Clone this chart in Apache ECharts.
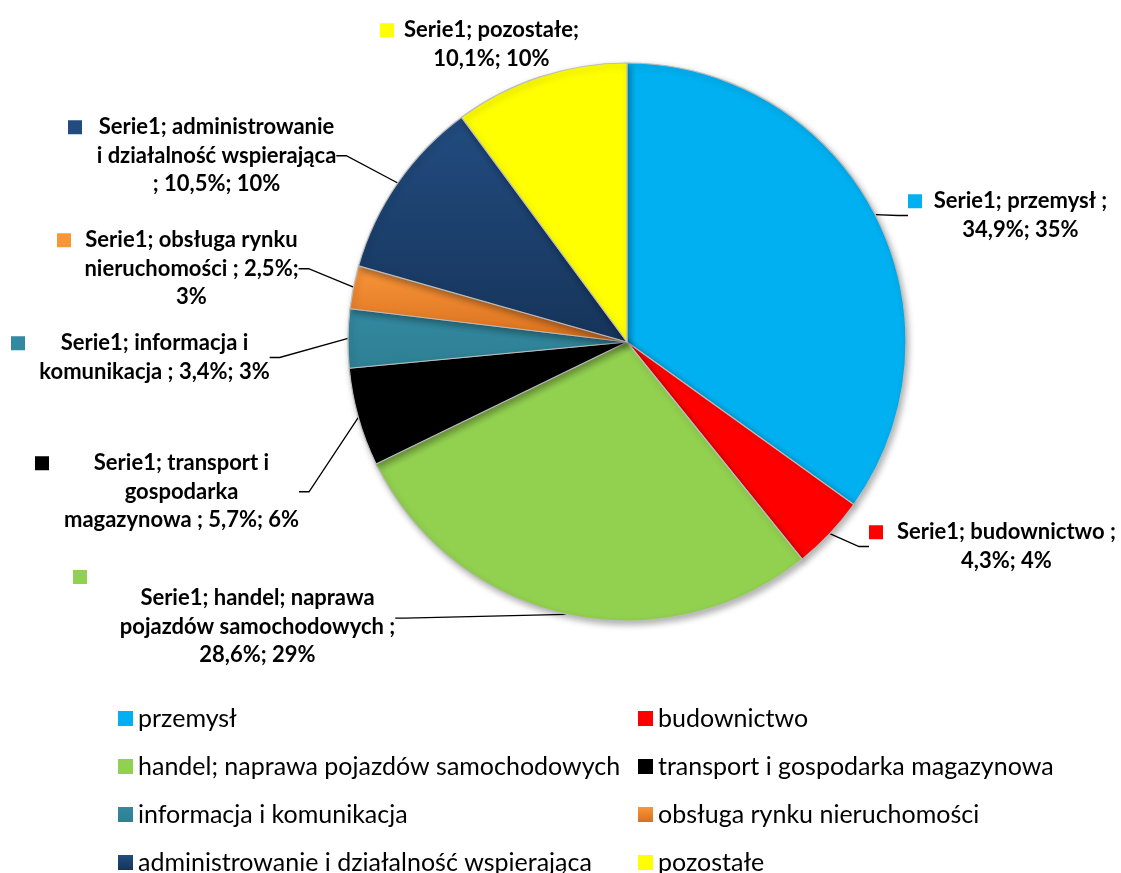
<!DOCTYPE html>
<html>
<head>
<meta charset="utf-8">
<script src="https://cdn.jsdelivr.net/npm/echarts@6/dist/echarts.min.js"></script>
<style>
  html, body { margin: 0; padding: 0; background: #fff; }
  #main { width: 1121px; height: 873px; }
</style>
</head>
<body>
<div id="main"></div>
<script>
// sectors, clockwise from 12 o'clock
const categories = [
  'przemysł',
  'budownictwo',
  'handel; naprawa pojazdów samochodowych',
  'transport i gospodarka magazynowa',
  'informacja i komunikacja',
  'obsługa rynku nieruchomości',
  'administrowanie i działalność wspierająca',
  'pozostałe'
];
const shares = [34.9, 4.3, 28.6, 5.7, 3.4, 2.5, 10.5, 10.1];
const seriesName = 'Serie1';

// data label text, wrapped the way the original does it
const labelLines = [
  ['Serie1; przemysł ;', '34,9%; 35%'],
  ['Serie1; budownictwo ;', '4,3%; 4%'],
  ['Serie1; handel; naprawa', 'pojazdów samochodowych ;', '28,6%; 29%'],
  ['Serie1; transport i', 'gospodarka', 'magazynowa ; 5,7%; 6%'],
  ['Serie1; informacja i', 'komunikacja ; 3,4%; 3%'],
  ['Serie1; obsługa rynku', 'nieruchomości ; 2,5%;', '3%'],
  ['Serie1; administrowanie', 'i działalność wspierająca', '; 10,5%; 10%'],
  ['Serie1; pozostałe;', '10,1%; 10%']
];

// colours: [top, bottom] of each slice
const colors = [
  ['#00B0F0', '#00B0F0'],
  ['#FF0000', '#FF0000'],
  ['#92D050', '#92D050'],
  ['#000000', '#000000'],
  ['#3389A0', '#2E7F94'],
  ['#F9963A', '#D96F1E'],
  ['#224C80', '#16345A'],
  ['#FFFF00', '#FFFF00']
];

// label boxes: left, top of first line, box width
const labelBoxes = [
  [908, 187, 211],
  [869, 518, 261],
  [73, 570, 355],
  [35, 449, 279],
  [11, 329, 273],
  [57, 226, 255],
  [68, 113, 283],
  [380, 16, 209]
];
const squareOnOwnLine = [false, false, true, false, false, false, false, false];
const showLine = [true, true, true, true, true, true, true, false];

const FONT = 'Lato, "Open Sans", sans-serif';

const chart = echarts.init(document.getElementById('main'), null, { renderer: 'canvas' });

const data = categories.map((name, i) => {
  const lines = labelLines[i];
  let text;
  if (squareOnOwnLine[i]) {
    text = '{sq' + i + '|}\n' + lines.map(l => '{pad|}{b|' + l + '}').join('\n');
  } else {
    text = lines.map((l, k) => (k === 0 ? '{sq' + i + '|}' : '{pad|}') + '{b|' + l + '}').join('\n');
  }
  return {
    name: name,
    value: shares[i],
    itemStyle: {
      color: new echarts.graphic.LinearGradient(0, 0, 0, 1, [
        { offset: 0, color: colors[i][0] },
        { offset: 1, color: colors[i][1] }
      ])
    },
    label: { formatter: text, width: labelBoxes[i][2] },
    labelLine: { show: showLine[i] }
  };
});

const rich = {
  b: {
    fontFamily: FONT, fontWeight: 'bold', fontSize: 22, color: '#000',
    lineHeight: 28.5, align: 'center'
  },
  pad: { width: 14, height: 14, align: 'left' }
};
colors.forEach((c, i) => {
  rich['sq' + i] = {
    width: 14, height: 14, align: 'left', verticalAlign: 'middle',
    backgroundColor: c[0],
    lineHeight: squareOnOwnLine[i] ? 14 : 28.5
  };
});

const option = {
  backgroundColor: '#fff',
  animation: false,
  legend: {
    data: categories,
    left: 118,
    top: 697,
    width: 1040,
    padding: 0,
    orient: 'horizontal',
    icon: 'rect',
    itemWidth: 15,
    itemHeight: 15,
    itemGap: 5,
    selectedMode: false,
    itemStyle: { borderWidth: 0, shadowBlur: 0 },
    textStyle: {
      fontFamily: FONT,
      fontSize: 25,
      color: '#000',
      width: 495,
      lineHeight: 43,
      overflow: 'none'
    }
  },
  series: [{
    name: seriesName,
    type: 'pie',
    center: [627, 342],
    radius: 279,
    startAngle: 90,
    clockwise: true,
    avoidLabelOverlap: false,
    emphasis: { disabled: true },
    itemStyle: {
      borderColor: '#BDBDBD',
      borderWidth: 1.2,
      shadowColor: 'rgba(0,0,0,0.3)',
      shadowBlur: 6,
      shadowOffsetX: 2,
      shadowOffsetY: 3
    },
    label: {
      show: true,
      position: 'outside',
      align: 'left',
      rich: rich
    },
    labelLine: {
      show: true,
      length: 15,
      length2: 10,
      lineStyle: { color: '#000', width: 1.3 }
    },
    labelLayout: function (params) {
      const b = labelBoxes[params.dataIndex];
      return { x: b[0], y: b[1], align: 'left', verticalAlign: 'top' };
    },
    data: data
  }]
};

chart.setOption(option);
</script>
</body>
</html>
